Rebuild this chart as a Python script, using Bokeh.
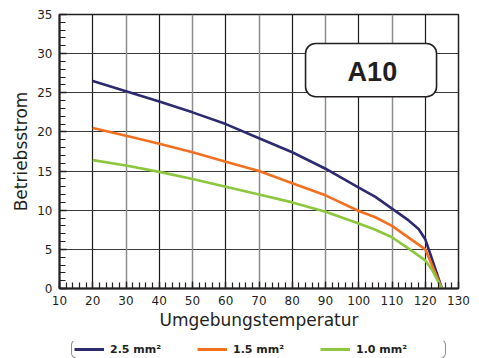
from bokeh.plotting import figure
from bokeh.layouts import column
from bokeh.models import (Legend, LegendItem, SingleIntervalTicker, FixedTicker,
                          Grid, BoxAnnotation, Label)
from bokeh.embed import file_html
from bokeh.resources import INLINE

# ---- data ----
temps = [20, 30, 40, 50, 60, 70, 80, 90, 100, 105, 110, 115, 118, 120, 122, 125]
current_25 = [26.5, 25.2, 23.9, 22.5, 21.0, 19.2, 17.4, 15.3, 12.9, 11.7, 10.2, 8.7, 7.6, 6.3, 3.8, 0.0]
current_15 = [20.5, 19.5, 18.5, 17.4, 16.2, 15.0, 13.45, 11.9, 9.9, 9.1, 8.0, 6.5, 5.6, 5.0, 3.0, 0.0]
current_10 = [16.4, 15.7, 14.9, 14.0, 13.0, 12.0, 11.0, 9.8, 8.3, 7.5, 6.55, 5.1, 4.2, 3.6, 2.4, 0.0]
series = [current_25, current_15, current_10]
series_labels = ["2.5 mm²", "1.5 mm²", "1.0 mm²"]
series_colors = ["#2d2a70", "#f37021", "#8dc63f"]
x_label = "Umgebungstemperatur"
y_label = "Betriebsstrom"
badge_text = "A10"
grid_dark_x = [20, 40, 60, 80, 100, 120]
grid_light_x = [30, 50, 70, 90, 110]
grid_y = [5, 10, 15, 20, 25, 30]

TXT = "#231f20"

p = figure(frame_width=399, frame_height=274, x_range=(10, 130), y_range=(0, 35),
           output_backend="svg", toolbar_location=None,
           min_border_left=59, min_border_right=21, min_border_top=14, min_border_bottom=53,
           background_fill_color="white", border_fill_color="white")

p.outline_line_color = "#231f20"
p.outline_line_width = 1.5

# grids
p.xgrid.ticker = FixedTicker(ticks=grid_dark_x)
p.xgrid.grid_line_color = "#1a1a1a"
p.xgrid.grid_line_width = 1.2
g2 = Grid(dimension=0, ticker=FixedTicker(ticks=grid_light_x),
          grid_line_color="#8c8c8c", grid_line_width=1.5)
p.add_layout(g2)
p.ygrid.ticker = FixedTicker(ticks=grid_y)
p.ygrid.grid_line_color = "#3a3a3a"
p.ygrid.grid_line_width = 1.2

# axes
p.xaxis.ticker = SingleIntervalTicker(interval=10, num_minor_ticks=5)
p.yaxis.ticker = SingleIntervalTicker(interval=5, num_minor_ticks=5)
for ax in (p.xaxis[0], p.yaxis[0]):
    ax.axis_line_color = "#231f20"
    ax.axis_line_width = 2
    ax.major_tick_in = 7
    ax.major_tick_out = 0
    ax.minor_tick_in = 6
    ax.minor_tick_out = 0
    ax.major_tick_line_color = "#231f20"
    ax.minor_tick_line_color = "#231f20"
    ax.major_tick_line_width = 1.3
    ax.minor_tick_line_width = 1.2
    ax.major_label_text_font = "DejaVu Sans"
    ax.major_label_text_font_size = "12px"
    ax.major_label_text_color = TXT
    ax.axis_label_text_font = "DejaVu Sans"
    ax.axis_label_text_font_size = "17px"
    ax.axis_label_text_font_style = "normal"
    ax.axis_label_text_color = TXT

p.xaxis.axis_label = x_label
p.yaxis.axis_label = y_label
p.xaxis.major_label_standoff = 7
p.xaxis.axis_label_standoff = 2
p.yaxis.major_label_standoff = 7
p.yaxis.axis_label_standoff = 3

# lines
for ys, col in zip(series, series_colors):
    p.line(temps, ys, line_color=col, line_width=2.6)

# badge
box = BoxAnnotation(left=84.0, right=123.4, top=31.3, bottom=24.5,
                    fill_color="white", fill_alpha=1.0,
                    line_color="#231f20", line_width=1.6, line_alpha=1.0)
if "border_radius" in BoxAnnotation.properties():
    box.border_radius = 10
p.add_layout(box)
p.add_layout(Label(x=104.1, y=27.6, text=badge_text, text_align="center",
                   text_baseline="middle", text_font="Liberation Sans",
                   text_font_style="bold", text_font_size="27px", text_color=TXT))

# legend strip below the chart (series drawn out of its view, only the legend shows)
leg = figure(width=479, height=17, output_backend="svg", toolbar_location=None,
             x_axis_type=None, y_axis_type=None, x_range=(0, 1), y_range=(0, 1),
             min_border=0, min_border_left=0, min_border_right=0,
             min_border_top=0, min_border_bottom=0, outline_line_color=None,
             background_fill_color="white", border_fill_color="white")
leg_renderers = [leg.line(temps, ys, line_color=col, line_width=3)
                 for ys, col in zip(series, series_colors)]
items = [LegendItem(label=lab, renderers=[r]) for lab, r in zip(series_labels, leg_renderers)]
legend = Legend(items=items, orientation="horizontal", location=(12, -1),
                glyph_width=30, glyph_height=14, label_standoff=6, label_width=87,
                spacing=0, padding=2, margin=0,
                border_line_color="#231f20", border_line_width=1.2,
                background_fill_color="white", background_fill_alpha=1.0,
                label_text_font="DejaVu Sans", label_text_font_style="bold",
                label_text_font_size="11px", label_text_color=TXT)
if "border_radius" in Legend.properties():
    legend.border_radius = 6
leg.add_layout(legend)

open("out.html", "w").write(file_html(column(p, leg, spacing=0), INLINE))
